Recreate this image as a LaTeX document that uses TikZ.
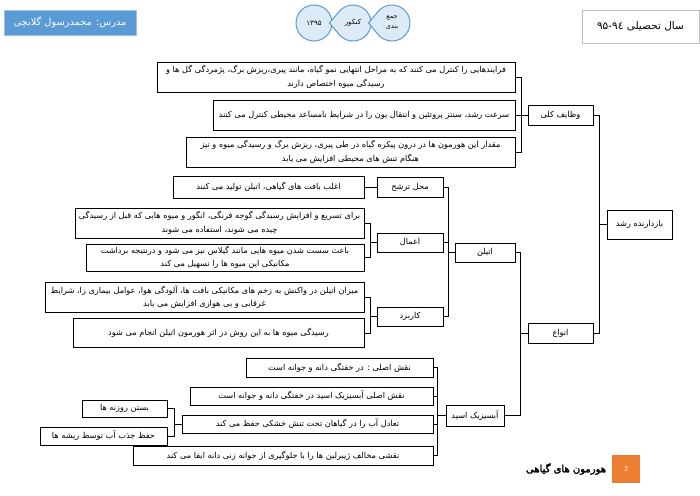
\documentclass[tikz,border=0pt]{standalone}
\usepackage{fontspec}
\usepackage{xcolor}
\newfontfamily\arabicfont[Script=Arabic]{DejaVu Sans}
\newfontfamily\arabicbold[Script=Arabic,FakeBold=2.5]{DejaVu Sans}
\TeXXeTstate=1
\newcommand{\fa}[1]{\beginR #1\endR}
\definecolor{hdrblue}{HTML}{5B9BD5}
\definecolor{hdrlight}{HTML}{DDEBF7}
\definecolor{pgorange}{HTML}{ED7D31}

\begin{document}
\begin{tikzpicture}[x=1pt,y=-1pt,
  font=\arabicfont\fontsize{8.2}{13.5}\selectfont,
  box/.style={draw=black,line width=1pt,fill=white,inner sep=0pt,align=center},
  link/.style={draw=black,line width=0.9pt},
  chev/.style={draw=hdrblue,line width=1pt,fill=hdrlight}]
  \useasboundingbox (0,0) rectangle (700,495);
  % header
  \node[fill=hdrblue,draw=hdrblue!60,text=white,minimum width=132,minimum height=25,inner sep=0pt,
    font=\arabicfont\fontsize{9.8}{11}\selectfont] (teacher) at (70,22.5) {\fa{مدرس: محمدرسول گلابچی}};
  \node[draw=black!25,fill=white,minimum width=117,minimum height=33,inner sep=0pt,
    font=\arabicfont\fontsize{10.5}{12}\selectfont] (year) at (640.5,26.5) {\fa{سال تحصیلی \beginL ۹۵-۹٤\endL}};
  \node[chev,circle,minimum size=36,inner sep=0pt,font=\arabicfont\fontsize{7}{8}\selectfont] (c1) at (314,23) {۱۳۹۵};
  \draw[chev] (329.5,23) -- ([shift={(140:18)}]353,23) arc[start angle=140,end angle=-140,radius=18] -- cycle;
  \node[font=\arabicfont\fontsize{7}{8}\selectfont] (c2) at (353,23) {\fa{کنکور}};
  \draw[chev] (368.5,23) -- ([shift={(140:18)}]392,23) arc[start angle=140,end angle=-140,radius=18] -- cycle;
  \node[align=center,font=\arabicfont\fontsize{6.5}{10}\selectfont] (c3) at (392,23) {\fa{جمع}\\\fa{بندی}};
  % footer
  \node[fill=pgorange,text=white,minimum size=28,inner sep=0pt,font=\sffamily\fontsize{7.5}{8}\selectfont] (page) at (626,469) {2};
  \node[font=\arabicbold\fontsize{10}{11}\selectfont] (title) at (566,469) {\fa{هورمون های گیاهی}};
  % tree
  \node[box,minimum width=65,minimum height=29] (root) at (639.5,224.5) {\fa{بازدارنده رشد}};
  \node[box,minimum width=65,minimum height=20] (wazayef) at (560.5,115) {\fa{وظایف کلی}};
  \node[box,minimum width=65,minimum height=20] (anva) at (560.5,333) {\fa{انواع}};
  \node[box,minimum width=358,minimum height=30] (fa1) at (336,77)
    {\fa{فرایندهایی را کنترل می کنند که به مراحل انتهایی نمو گیاه، مانند پیری،ریزش برگ، پژمردگی گل ها و}\\\fa{رسیدگی میوه اختصاص دارند}};
  \node[box,minimum width=302,minimum height=30] (fa2) at (364,115)
    {\fa{سرعت رشد، سنتز پروتئین و انتقال یون را در شرایط نامساعد محیطی کنترل می کنند}};
  \node[box,minimum width=329,minimum height=30] (fa3) at (350.5,152)
    {\fa{مقدار این هورمون ها در درون پیکره گیاه در طی پیری، ریزش برگ و رسیدگی میوه و نیز}\\\fa{هنگام تنش های محیطی افزایش می یابد}};
  \node[box,minimum width=60,minimum height=19] (ethylene) at (485,252.5) {\fa{اتیلن}};
  \node[box,minimum width=58,minimum height=21] (absisic) at (475,415.5) {\fa{آبسیزیک اسید}};
  \node[box,minimum width=66,minimum height=20] (tarashoh) at (410,187) {\fa{محل ترشح}};
  \node[box,minimum width=66,minimum height=19] (aamal) at (410,242.5) {\fa{اعمال}};
  \node[box,minimum width=66,minimum height=19] (karbord) at (410,316.5) {\fa{کاربرد}};
  \node[box,minimum width=191,minimum height=22] (tar1) at (268.5,187) {\fa{اغلب بافت های گیاهی، اتیلن تولید می کنند}};
  \node[box,minimum width=289,minimum height=30] (aam1) at (219.5,223)
    {\fa{برای تسریع و افزایش رسیدگی گوجه فرنگی، انگور و میوه هایی که قبل از رسیدگی}\\\fa{چیده می شوند، استفاده می شوند}};
  \node[box,minimum width=278,minimum height=27] (aam2) at (225,257.5)
    {\fa{باعث سست شدن میوه هایی مانند گیلاس نیز می شود و درنتیجه برداشت}\\\fa{مکانیکی این میوه ها را تسهیل می کند}};
  \node[box,minimum width=319,minimum height=30] (kar1) at (204.5,297)
    {\fa{میزان اتیلن در واکنش به زخم های مکانیکی بافت ها، آلودگی هوا، عوامل بیماری زا، شرایط}\\\fa{غرقابی و بی هوازی افزایش می یابد}};
  \node[box,minimum width=291,minimum height=29] (kar2) at (218.5,333)
    {\fa{رسیدگی میوه ها به این روش در اثر هورمون اتیلن انجام می شود}};
  \node[box,minimum width=187,minimum height=19] (aba1) at (339.5,367.5) {\fa{نقش اصلی : در خفتگی دانه و جوانه است}};
  \node[box,minimum width=243,minimum height=18] (aba2) at (311.5,396) {\fa{نقش اصلی آبسیزیک اسید در خفتگی دانه و جوانه است}};
  \node[box,minimum width=251,minimum height=18] (aba3) at (307.5,424) {\fa{تعادل آب را در گیاهان تحت تنش خشکی حفظ می کند}};
  \node[box,minimum width=300,minimum height=19] (aba4) at (283,455.5) {\fa{نقشی مخالف ژیبرلین ها را با جلوگیری از جوانه زنی دانه ایفا می کند}};
  \node[box,minimum width=85,minimum height=17] (ab31) at (124.5,408.5) {\fa{بستن روزنه ها}};
  \node[box,minimum width=127,minimum height=18] (ab32) at (103.5,436) {\fa{حفظ جذب آب توسط ریشه ها}};
  % connectors
  \draw[link] (root.west) -- ++(-7,0) coordinate (j0);
  \draw[link] (wazayef.east) -| (j0);
  \draw[link] (anva.east) -| (j0);
  \draw[link] (wazayef.west) -- ++(-6,0) coordinate (j1);
  \foreach \n in {fa1,fa2,fa3} \draw[link] (\n.east) -| (j1);
  \draw[link] (anva.west) -- ++(-7,0) coordinate (j2);
  \draw[link] (ethylene.east) -| (j2);
  \draw[link] (absisic.east) -| (j2);
  \draw[link] (ethylene.west) -- ++(-6,0) coordinate (j3);
  \foreach \n in {tarashoh,aamal,karbord} \draw[link] (\n.east) -| (j3);
  \draw[link] (tarashoh.west) -- (tar1.east);
  \draw[link] (aamal.west) -- ++(-6,0) coordinate (j4);
  \foreach \n in {aam1,aam2} \draw[link] (\n.east) -| (j4);
  \draw[link] (karbord.west) -- ++(-6,0) coordinate (j5);
  \foreach \n in {kar1,kar2} \draw[link] (\n.east) -| (j5);
  \draw[link] (absisic.west) -- ++(-8,0) coordinate (j6);
  \foreach \n in {aba1,aba2,aba3,aba4} \draw[link] (\n.east) -| (j6);
  \draw[link] (aba3.west) -- ++(-7,0) coordinate (j7);
  \foreach \n in {ab31,ab32} \draw[link] (\n.east) -| (j7);
\end{tikzpicture}
\end{document}
